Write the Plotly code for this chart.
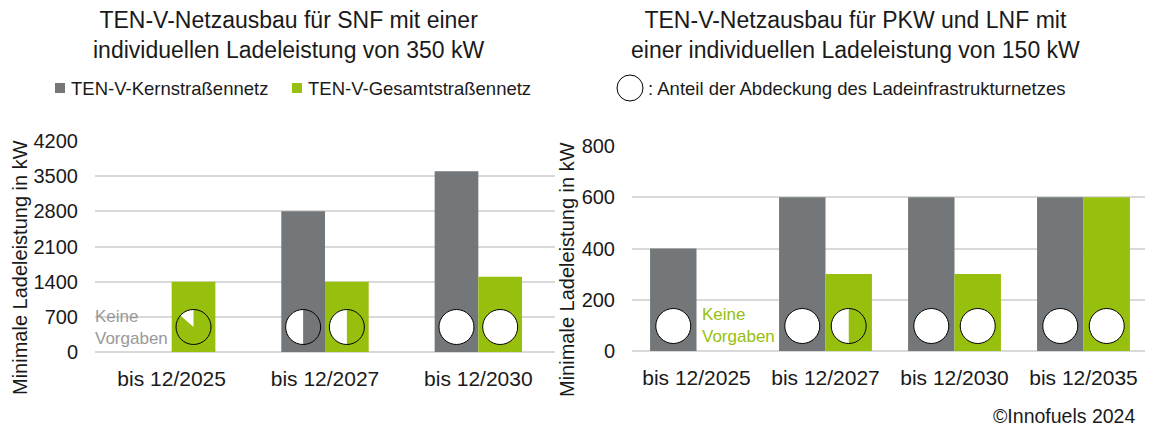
import plotly.graph_objects as go

# ---------------- data ----------------
cats_left = ["bis 12/2025", "bis 12/2027", "bis 12/2030"]
kern_left = [None, 2800, 3600]          # TEN-V-Kernstraßennetz (SNF, 350 kW)
gesamt_left = [1400, 1400, 1500]        # TEN-V-Gesamtstraßennetz
cov_kern_left = [None, 0.5, 1.0]        # Anteil der Abdeckung
cov_gesamt_left = [0.135, 0.5, 1.0]

cats_right = ["bis 12/2025", "bis 12/2027", "bis 12/2030", "bis 12/2035"]
kern_right = [400, 600, 600, 600]       # PKW/LNF, 150 kW
gesamt_right = [None, 300, 300, 600]
cov_kern_right = [1.0, 1.0, 1.0, 1.0]
cov_gesamt_right = [None, 0.5, 1.0, 1.0]

yticks_left = [0, 700, 1400, 2100, 2800, 3500, 4200]
yticks_right = [0, 200, 400, 600, 800]

# ---------------- style / layout constants ----------------
W, H = 1153, 441
OX, OY = 8, 8      # page offset of the figure inside the browser window
GRAY = "#737779"
GREEN = "#97bf0d"
GRID = "#d9d9d9"
FONT = "Liberation Sans"

# plot areas in screen pixels: (x0, x1, y_zero, y_top)
LP = dict(x0=95, x1=555, yb=352, yt=141)
RP = dict(x0=632, x1=1148, yb=351, yt=146)
BW_LEFT = 0.285   # bar width in category units
BW_RIGHT = 0.36
PIE_D = 35        # pie diameter px
PIE_UP = 25       # pie center above baseline px


def px(sx):
    return (sx - OX) / W


def py(sy):
    return 1 - (sy - OY) / H


def xdom(p):
    return [px(p["x0"]), px(p["x1"])]


def ydom(p):
    return [py(p["yb"]), py(p["yt"])]


fig = go.Figure()

# bars
for cats, kern, ges, bw, xa, ya in [
    (cats_left, kern_left, gesamt_left, BW_LEFT, "x", "y"),
    (cats_right, kern_right, gesamt_right, BW_RIGHT, "x2", "y2"),
]:
    fig.add_trace(go.Bar(x=cats, y=kern, name="TEN-V-Kernstraßennetz", marker_color=GRAY,
                         marker_line_width=0, width=bw, offset=-bw, xaxis=xa, yaxis=ya,
                         showlegend=False, hoverinfo="skip"))
    fig.add_trace(go.Bar(x=cats, y=ges, name="TEN-V-Gesamtstraßennetz", marker_color=GREEN,
                         marker_line_width=0, width=bw, offset=0, xaxis=xa, yaxis=ya,
                         showlegend=False, hoverinfo="skip"))


def add_pie(cx, cy, d, cov, color):
    dom = dict(x=[px(cx - d / 2), px(cx + d / 2)],
               y=[py(cy + d / 2), py(cy - d / 2)])
    if cov >= 1:
        fig.add_trace(go.Pie(values=[1], marker=dict(colors=["white"], line=dict(color="black", width=1)),
                             domain=dom, textinfo="none", sort=False, hoverinfo="skip", showlegend=False))
    else:
        # clockwise from 12 o'clock: the covered (white) share is the last slice, ending at 12 o'clock
        fig.add_trace(go.Pie(values=[1 - cov, cov], marker=dict(colors=[color, "white"], line=dict(width=0)),
                             domain=dom, textinfo="none", sort=False, direction="clockwise",
                             rotation=0, hoverinfo="skip", showlegend=False))
        fig.add_trace(go.Pie(values=[1], marker=dict(colors=["rgba(0,0,0,0)"], line=dict(color="black", width=1)),
                             domain=dom, textinfo="none", sort=False, hoverinfo="skip", showlegend=False))


for cats, ck, cg, bw, p in [
    (cats_left, cov_kern_left, cov_gesamt_left, BW_LEFT, LP),
    (cats_right, cov_kern_right, cov_gesamt_right, BW_RIGHT, RP),
]:
    catw = (p["x1"] - p["x0"]) / len(cats)
    cy = p["yb"] - PIE_UP
    for i in range(len(cats)):
        center = p["x0"] + (i + 0.5) * catw
        if ck[i] is not None:
            add_pie(center - bw * catw / 2, cy, PIE_D, ck[i], GRAY)
        if cg[i] is not None:
            add_pie(center + bw * catw / 2, cy, PIE_D, cg[i], GREEN)

# legend circle (right)
add_pie(630, 88, 26, 1.0, GRAY)

axis_common = dict(showline=False, zeroline=False, ticks="", automargin=False,
                   tickfont=dict(size=21, color="#1a1a1a"))
fig.update_layout(
    width=W, height=H, autosize=False, margin=dict(l=0, r=0, t=0, b=0, pad=0),
    paper_bgcolor="white", plot_bgcolor="white",
    font=dict(family=FONT, color="#1a1a1a"),
    barmode="overlay", showlegend=False,
    xaxis=dict(domain=xdom(LP), type="category", range=[-0.5, len(cats_left) - 0.5],
               showgrid=False, anchor="y", ticklabelstandoff=12, **axis_common),
    yaxis=dict(domain=ydom(LP), range=[0, 4200], tickvals=yticks_left, showgrid=True,
               gridcolor=GRID, gridwidth=1.5, anchor="x", ticklabelstandoff=16, **axis_common),
    xaxis2=dict(domain=xdom(RP), type="category", range=[-0.5, len(cats_right) - 0.5],
                showgrid=False, anchor="y2", ticklabelstandoff=12, **axis_common),
    yaxis2=dict(domain=ydom(RP), range=[0, 800], tickvals=yticks_right, showgrid=True,
                gridcolor=GRID, gridwidth=1.5, anchor="x2", ticklabelstandoff=16, **axis_common),
)
fig.update_yaxes(tickfont=dict(size=20))

# baseline lines
for p in (LP, RP):
    fig.add_shape(type="line", xref="paper", yref="paper", x0=px(p["x0"]), x1=px(p["x1"]),
                  y0=py(p["yb"]), y1=py(p["yb"]), line=dict(color=GRID, width=2), layer="below")

ann = []
# titles
ann.append(dict(text="TEN-V-Netzausbau für SNF mit einer<br>individuellen Ladeleistung von 350 kW",
                x=px(289), y=py(35), font=dict(size=23)))
ann.append(dict(text="TEN-V-Netzausbau für PKW und LNF mit<br>einer individuellen Ladeleistung von 150 kW",
                x=px(855), y=py(35), font=dict(size=23)))
# y titles
ann.append(dict(text="Minimale Ladeleistung in kW", x=px(20), y=py(268), textangle=-90,
                font=dict(size=20), borderpad=0))
ann.append(dict(text="Minimale Ladeleistung in kW", x=px(567), y=py(270), textangle=-90,
                font=dict(size=20), borderpad=0))
# legend texts
ann.append(dict(text="TEN-V-Kernstraßennetz", x=px(69), y=py(88), xanchor="left", font=dict(size=18.5)))
ann.append(dict(text="TEN-V-Gesamtstraßennetz", x=px(306), y=py(88), xanchor="left", font=dict(size=18.5)))
ann.append(dict(text=": Anteil der Abdeckung des Ladeinfrastrukturnetzes", x=px(646), y=py(88),
                xanchor="left", font=dict(size=18.5)))
# Keine Vorgaben
ann.append(dict(text="Keine<br>Vorgaben", x=px(93), y=py(327), xanchor="left", align="left",
                font=dict(size=17, color="#999999")))
ann.append(dict(text="Keine<br>Vorgaben", x=px(700), y=py(325), xanchor="left", align="left",
                font=dict(size=17, color=GREEN)))
# copyright
ann.append(dict(text="©Innofuels 2024", x=px(1137), y=py(416), xanchor="right", font=dict(size=19.5)))

for a in ann:
    a.setdefault("xanchor", "center")
    a.update(xref="paper", yref="paper", yanchor="middle", showarrow=False)
    fig.add_annotation(**a)

# legend squares
for x0, col in [(55, GRAY), (292, GREEN)]:
    fig.add_shape(type="rect", xref="paper", yref="paper", x0=px(x0), x1=px(x0 + 10),
                  y0=py(93), y1=py(83), fillcolor=col, line=dict(width=0))

fig.write_html("out.html")
